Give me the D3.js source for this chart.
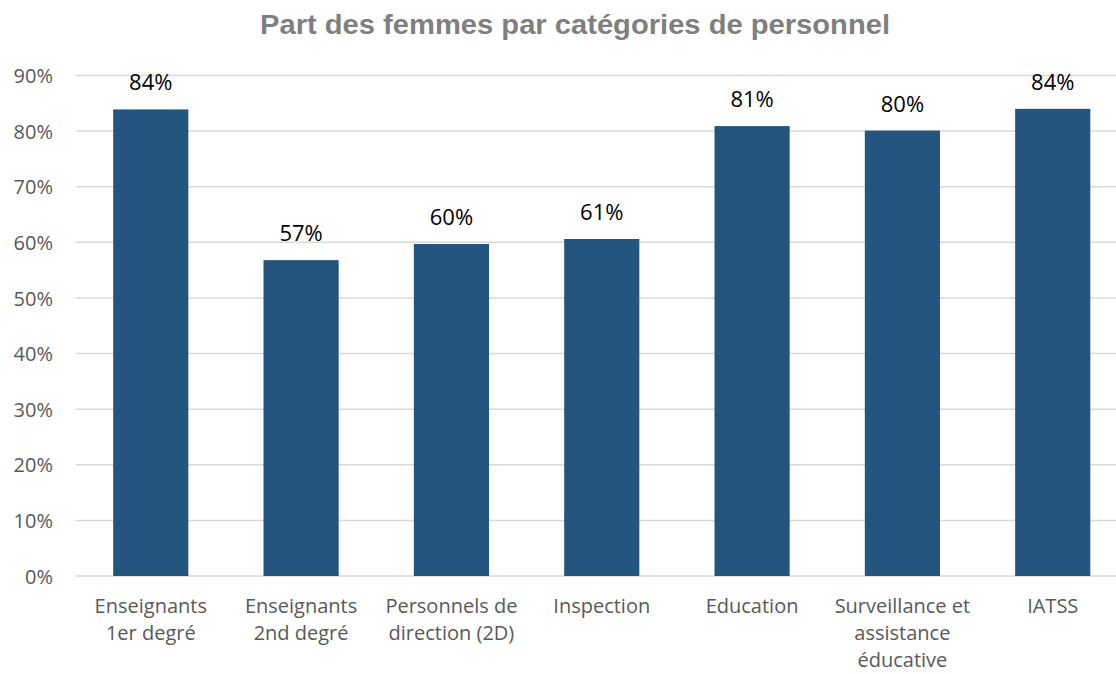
<!DOCTYPE html>
<html>
<head>
<meta charset="utf-8">
<script src="https://cdn.jsdelivr.net/npm/d3@7/dist/d3.min.js"></script>
<style>
  html, body { margin: 0; padding: 0; background: #fff; }
  svg { display: block; }
</style>
</head>
<body>
<svg id="chart" width="1116" height="674"></svg>
<script>
const title = "Part des femmes par catégories de personnel";
const categories = [
  "Enseignants\n1er degré",
  "Enseignants\n2nd degré",
  "Personnels de\ndirection (2D)",
  "Inspection",
  "Education",
  "Surveillance et\nassistance\néducative",
  "IATSS"
];
const values = [0.839, 0.568, 0.597, 0.606, 0.809, 0.801, 0.840];
const valueLabels = ["84%", "57%", "60%", "61%", "81%", "80%", "84%"];
const yTicks = [0, 0.1, 0.2, 0.3, 0.4, 0.5, 0.6, 0.7, 0.8, 0.9];

const svg = d3.select("#chart");
const W = 1116, H = 674;

const x = d3.scaleBand()
  .domain(categories)
  .range([75.6, 1127.9])
  .paddingInner(0.5)
  .paddingOuter(0.25);

const y = d3.scaleLinear()
  .domain([0, 0.9])
  .range([576, 75.5]);

// Title
svg.append("text")
  .attr("x", 575)
  .attr("y", 34)
  .attr("text-anchor", "middle")
  .attr("font-family", "Liberation Sans, Arial, sans-serif")
  .attr("font-weight", "bold")
  .attr("font-size", 27.5)
  .attr("fill", "#7f7f7f")
  .attr("textLength", 630)
  .attr("lengthAdjust", "spacingAndGlyphs")
  .text(title);

// Gridlines
svg.append("g")
  .selectAll("line")
  .data(yTicks)
  .join("line")
  .attr("x1", 75.6)
  .attr("x2", W)
  .attr("y1", d => y(d))
  .attr("y2", d => y(d))
  .attr("stroke", "#d9d9d9")
  .attr("stroke-width", 1.5);

// Y axis labels
const yAxis = d3.axisLeft(y)
  .tickValues(yTicks)
  .tickFormat(d3.format(".0%"))
  .tickSize(0)
  .tickPadding(0);
const yg = svg.append("g")
  .attr("transform", "translate(53,0)")
  .call(yAxis);
yg.select(".domain").remove();
yg.selectAll("text")
  .attr("font-family", "Open Sans, sans-serif")
  .attr("font-size", 20)
  .attr("fill", "#595959")
  .attr("dy", "0.36em");

// Bars
svg.append("g")
  .selectAll("rect")
  .data(values)
  .join("rect")
  .attr("x", (d, i) => x(categories[i]))
  .attr("width", x.bandwidth())
  .attr("y", d => y(d))
  .attr("height", d => y(0) - y(d))
  .attr("fill", "#23557f");

// Value labels
svg.append("g")
  .selectAll("text")
  .data(values)
  .join("text")
  .attr("x", (d, i) => x(categories[i]) + x.bandwidth() / 2)
  .attr("y", d => y(d) - 19)
  .attr("text-anchor", "middle")
  .attr("font-family", "Open Sans, sans-serif")
  .attr("font-size", 22)
  .attr("fill", "#000")
  .text((d, i) => valueLabels[i]);

// Category labels
const catG = svg.append("g");
categories.forEach(c => {
  const t = catG.append("text")
    .attr("text-anchor", "middle")
    .attr("font-family", "Open Sans, sans-serif")
    .attr("font-size", 20)
    .attr("fill", "#595959");
  c.split("\n").forEach((line, li) => {
    t.append("tspan")
      .attr("x", x(c) + x.bandwidth() / 2)
      .attr("y", 613 + li * 27)
      .text(line);
  });
});
</script>
</body>
</html>
